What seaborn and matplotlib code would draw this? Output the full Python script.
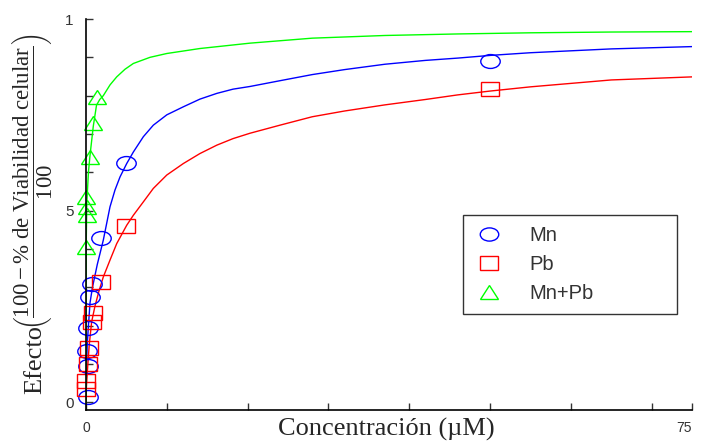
import pandas as pd
import numpy as np
import matplotlib
matplotlib.use("Agg")
import matplotlib.pyplot as plt
from matplotlib.lines import Line2D
from matplotlib.markers import MarkerStyle
from matplotlib.transforms import Affine2D
import seaborn as sns

# ============================================================
# DATA
# ============================================================

# measured points
mn_conc = [0.25, 0.2, 0.15, 0.3, 0.5, 0.7, 1.9, 5.0, 50.0]
mn_efecto = [0.015, 0.095, 0.135, 0.195, 0.275, 0.31, 0.43, 0.625, 0.89]

pb_conc = [0.05, 0.05, 0.25, 0.35, 0.7, 0.85, 1.9, 5.0, 50.0]
pb_efecto = [0.035, 0.055, 0.10, 0.143, 0.21, 0.233, 0.315, 0.46, 0.818]

mix_conc = [1.3, 0.9, 0.5, 0.05, 0.1, 0.1, 0.02]
mix_efecto = [0.797, 0.73, 0.64, 0.535, 0.51, 0.49, 0.405]

# fitted curves
mn_fit_x = [0, 0.05, 0.15, 0.3, 0.5, 0.8, 1.1, 1.4, 1.73, 2.14, 2.56, 2.97, 3.59, 4.21,
            5.04, 5.86, 7.1, 8.33, 10.0, 12.05, 14.1, 16.2, 18.2, 20.3, 24, 28, 32, 37,
            42, 46, 50, 55, 65, 75]
mn_fit_y = [0, 0.08, 0.15, 0.20, 0.26, 0.30, 0.33, 0.36, 0.388, 0.423, 0.467, 0.510, 0.554,
            0.588, 0.623, 0.653, 0.693, 0.723, 0.750, 0.771, 0.791, 0.806, 0.817, 0.824,
            0.839, 0.855, 0.868, 0.882, 0.892, 0.898, 0.905, 0.912, 0.922, 0.928]

pb_fit_x = [0, 0.05, 0.2, 0.4, 0.7, 1.1, 1.6, 2.14, 2.97, 3.8, 5.04, 5.86, 7.1, 8.33, 10.0,
            12.05, 14.1, 16.2, 18.2, 20.3, 24, 28, 32, 37, 42, 46, 50, 55, 65, 75]
pb_fit_y = [0, 0.04, 0.09, 0.15, 0.21, 0.25, 0.29, 0.327, 0.371, 0.414, 0.462, 0.488, 0.523,
            0.558, 0.593, 0.623, 0.649, 0.671, 0.688, 0.702, 0.723, 0.745, 0.760, 0.776,
            0.790, 0.802, 0.812, 0.823, 0.841, 0.849]

mix_fit_x = [0, 0.01, 0.03, 0.1, 0.3, 0.5, 0.9, 1.3, 1.7, 2.14, 2.97, 3.8, 4.83, 5.86, 7.92,
             10.0, 14.1, 20.3, 28, 37, 46, 55, 65, 75]
mix_fit_y = [0, 0.30, 0.42, 0.52, 0.60, 0.645, 0.72, 0.775, 0.79, 0.80, 0.828, 0.849, 0.869,
             0.884, 0.900, 0.910, 0.923, 0.937, 0.950, 0.957, 0.961, 0.964, 0.966, 0.967]

groups = ["Mn", "Pb", "Mn+Pb"]
colors = {"Mn": "#0000ff", "Pb": "#ff0000", "Mn+Pb": "#00ff00"}
markers = {"Mn": "o", "Pb": "s", "Mn+Pb": "^"}
msizes = {"Mn": 10, "Pb": 9.5, "Mn+Pb": 9.5}

x_ticks = [0, 10, 20, 30, 40, 50, 60, 70, 75]
x_ticklabels = ["0", "", "", "", "", "", "", "", "75"]
y_ticks = [0, 0.1, 0.2, 0.3, 0.4, 0.5, 0.6, 0.7, 0.8, 0.9, 1.0]
y_ticklabels = ["0", "", "", "", "", "5", "", "", "", "", "1"]

points = pd.concat([
    pd.DataFrame({"conc": mn_conc, "efecto": mn_efecto, "grupo": "Mn"}),
    pd.DataFrame({"conc": pb_conc, "efecto": pb_efecto, "grupo": "Pb"}),
    pd.DataFrame({"conc": mix_conc, "efecto": mix_efecto, "grupo": "Mn+Pb"}),
])
curves = pd.concat([
    pd.DataFrame({"conc": mn_fit_x, "efecto": mn_fit_y, "grupo": "Mn"}),
    pd.DataFrame({"conc": pb_fit_x, "efecto": pb_fit_y, "grupo": "Pb"}),
    pd.DataFrame({"conc": mix_fit_x, "efecto": mix_fit_y, "grupo": "Mn+Pb"}),
])


def wide_marker(m):
    # markers in the reference are stretched horizontally
    return MarkerStyle(m, fillstyle="none", transform=Affine2D().scale(1.4, 1.0))


# ============================================================
# PLOT
# ============================================================

sns.set_style("ticks")
plt.rcParams["font.family"] = ["Liberation Sans", "DejaVu Sans"]
plt.rcParams["mathtext.fontset"] = "custom"
plt.rcParams["mathtext.rm"] = "Liberation Serif"
plt.rcParams["mathtext.it"] = "Liberation Serif:italic"

W, H = 701, 445
fig = plt.figure(figsize=(W / 100, H / 100), dpi=100)
ax = fig.add_axes([86 / W, 1 - 410 / H, 606 / W, 391 / H])

for g in groups:
    sns.lineplot(data=curves[curves["grupo"] == g], x="conc", y="efecto",
                 color=colors[g], lw=1.0, estimator=None, sort=False, ax=ax)

for g in groups:
    sub = points[points["grupo"] == g]
    ax.plot(sub["conc"], sub["efecto"], linestyle="none", marker=wide_marker(markers[g]),
            ms=msizes[g], mec=colors[g], mew=1.0, clip_on=False)

ax.set_xlim(0, 75)
ax.set_ylim(-0.02, 1.0)
ax.set_xticks(x_ticks)
ax.set_xticklabels(x_ticklabels)
ax.set_yticks(y_ticks)
ax.set_yticklabels(y_ticklabels)
ax.tick_params(direction="in", length=5, width=1, colors="#333333")
ax.tick_params(axis="x", pad=8, labelsize=10)
ax.tick_params(axis="y", pad=9, labelsize=11)
ax.get_xticklabels()[-1].set_ha("right")
for s in ["left", "bottom"]:
    ax.spines[s].set_linewidth(1.2)
    ax.spines[s].set_color("black")
sns.despine(ax=ax)

ax.set_xlabel("Concentración (µM)", fontsize=19, family="Liberation Serif")
ax.xaxis.set_label_coords(0.495, -0.02)
ax.set_ylabel("")

# y label built from two pieces: "Efecto" and the fraction in parentheses
fig.text(35 / W, 1 - 360 / H, "Efecto", rotation=90, ha="center", va="center",
         fontsize=19, family="Liberation Serif")
fig.text(33 / W, 1 - 182 / H,
         r"$\left(\dfrac{\mathrm{100 - \%\ de\ Viabilidad\ celular}}{\mathrm{100}}\right)$",
         rotation=90, ha="center", va="center", fontsize=16.5)

handles = [Line2D([], [], linestyle="none", marker=wide_marker(markers[g]), ms=9.5,
                  mec=colors[g], mew=1.0) for g in groups]
leg = ax.legend(handles, groups, loc="upper left", mode="expand",
                bbox_to_anchor=(377 / 606, 0.256, 214 / 606, 0.243),
                frameon=True, fancybox=False, edgecolor="black", fontsize=14.5,
                handletextpad=1.25, borderpad=0.55, labelspacing=0.5, borderaxespad=0,
                handlelength=1.5)
leg.get_frame().set_linewidth(1.0)
for t in leg.get_texts():
    t.set_color("#333333")

fig.savefig("out.png", dpi=100)
